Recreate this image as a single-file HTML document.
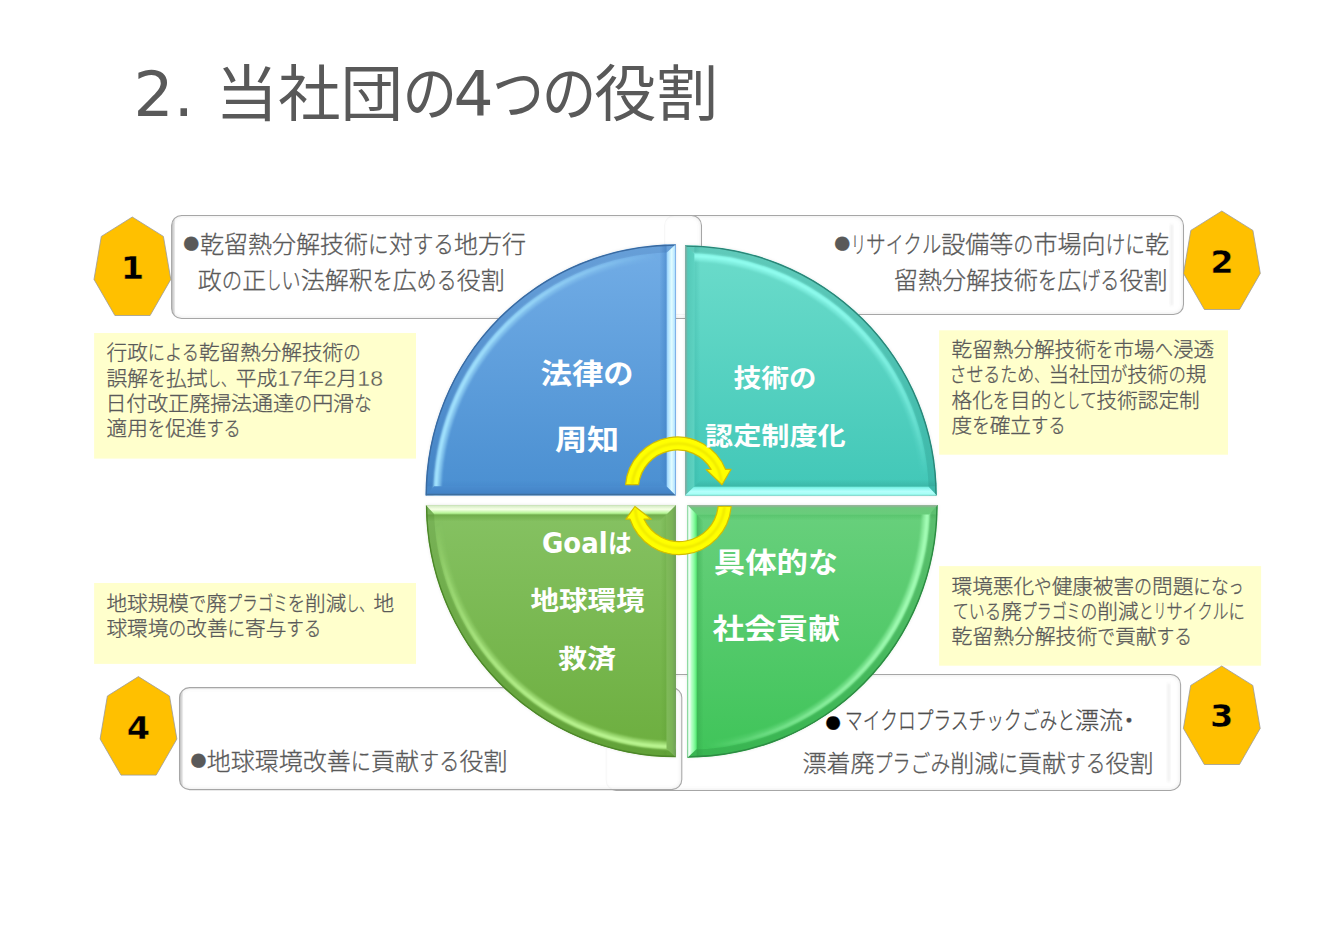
<!DOCTYPE html>
<html lang="ja"><head><meta charset="utf-8"><title>2. 当社団の4つの役割</title>
<style>
html,body{margin:0;padding:0;background:#fff}
body{width:1321px;height:933px;overflow:hidden;position:relative}
svg{position:absolute;left:0;top:0;display:block}
text{font-family:"Liberation Sans","Noto Sans CJK JP",sans-serif;white-space:pre}
.l{font-family:"DejaVu Sans","Liberation Sans",sans-serif}
</style></head><body>
<svg width="1321" height="933" viewBox="0 0 1321 933">
<defs>
<filter id="b1" x="-10%" y="-10%" width="120%" height="120%"><feGaussianBlur stdDeviation="0.8"/></filter>
<filter id="b2" x="-10%" y="-10%" width="120%" height="120%"><feGaussianBlur stdDeviation="1.6"/></filter>
<filter id="b3" x="-20%" y="-20%" width="140%" height="140%"><feGaussianBlur stdDeviation="2.5"/></filter>
</defs>
<rect width="1321" height="933" fill="#ffffff"/>
<clipPath id="bc2"><rect x="664.6" y="215.4" width="518.9" height="99.2" rx="10.0"/></clipPath>
<rect x="664.6" y="215.4" width="518.9" height="99.2" rx="10.0" fill="#fff" fill-opacity="0.9"/>
<g clip-path="url(#bc2)" fill="none"><rect x="664.6" y="215.4" width="518.9" height="99.2" rx="10.0" stroke="#8c8c8c" stroke-opacity="0.16" stroke-width="3" filter="url(#b2)"/>
<rect x="1170.0" y="224.4" width="3.4" height="81.2" fill="#7a7a7a" fill-opacity="0.09" filter="url(#b1)"/>
</g>
<rect x="664.6" y="215.4" width="518.9" height="99.2" rx="10.0" fill="none" stroke="#a6a6a6" stroke-width="1.05"/>
<clipPath id="bc1"><rect x="171.6" y="215.4" width="529.9" height="103.1" rx="10.0"/></clipPath>
<rect x="171.6" y="215.4" width="529.9" height="103.1" rx="10.0" fill="#fff" fill-opacity="0.9"/>
<g clip-path="url(#bc1)" fill="none"><rect x="171.6" y="215.4" width="529.9" height="103.1" rx="10.0" stroke="#8c8c8c" stroke-opacity="0.16" stroke-width="3" filter="url(#b2)"/>
<rect x="167.6" y="218.4" width="6.5" height="97.1" fill="#7a7a7a" fill-opacity="0.42" filter="url(#b2)"/>
</g>
<rect x="171.6" y="215.4" width="529.9" height="103.1" rx="10.0" fill="none" stroke="#a6a6a6" stroke-width="1.05"/>
<clipPath id="bc3"><rect x="606.2" y="674.4" width="574.4" height="116.0" rx="10.0"/></clipPath>
<rect x="606.2" y="674.4" width="574.4" height="116.0" rx="10.0" fill="#fff" fill-opacity="0.9"/>
<g clip-path="url(#bc3)" fill="none"><rect x="606.2" y="674.4" width="574.4" height="116.0" rx="10.0" stroke="#8c8c8c" stroke-opacity="0.16" stroke-width="3" filter="url(#b2)"/>
<rect x="1167.1" y="683.4" width="3.4" height="98.0" fill="#7a7a7a" fill-opacity="0.09" filter="url(#b1)"/>
</g>
<rect x="606.2" y="674.4" width="574.4" height="116.0" rx="10.0" fill="none" stroke="#a6a6a6" stroke-width="1.05"/>
<clipPath id="bc4"><rect x="179.5" y="687.6" width="502.3" height="102.0" rx="10.0"/></clipPath>
<rect x="179.5" y="687.6" width="502.3" height="102.0" rx="10.0" fill="#fff" fill-opacity="0.9"/>
<g clip-path="url(#bc4)" fill="none"><rect x="179.5" y="687.6" width="502.3" height="102.0" rx="10.0" stroke="#8c8c8c" stroke-opacity="0.16" stroke-width="3" filter="url(#b2)"/>
<rect x="175.5" y="690.6" width="6.5" height="96.0" fill="#7a7a7a" fill-opacity="0.42" filter="url(#b2)"/>
</g>
<rect x="179.5" y="687.6" width="502.3" height="102.0" rx="10.0" fill="none" stroke="#a6a6a6" stroke-width="1.05"/>
<rect x="94.1" y="333.0" width="321.9" height="125.6" fill="#ffffcc"/>
<rect x="939.1" y="330.3" width="288.9" height="124.4" fill="#ffffcc"/>
<rect x="939.1" y="566.1" width="322.0" height="99.6" fill="#ffffcc"/>
<rect x="94.1" y="583.0" width="321.9" height="80.9" fill="#ffffcc"/>
<polygon points="132.3,217.0 163.4,236.4 170.8,279.4 150.1,315.5 114.9,315.5 94.0,279.4 101.3,236.4" fill="#ffc000" stroke="#9b9b9b" stroke-width="0.8" stroke-linejoin="round"/>
<text class="l" x="120.70" y="279.0" textLength="23.4" lengthAdjust="spacingAndGlyphs" font-weight="700" font-size="32.0" fill="#000" stroke="#ffc000" stroke-width="0.4">1</text>
<polygon points="1221.8,211.0 1252.9,230.4 1260.3,273.4 1239.6,309.5 1204.4,309.5 1183.5,273.4 1190.8,230.4" fill="#ffc000" stroke="#9b9b9b" stroke-width="0.8" stroke-linejoin="round"/>
<text class="l" x="1210.20" y="273.0" textLength="23.4" lengthAdjust="spacingAndGlyphs" font-weight="700" font-size="32.0" fill="#000" stroke="#ffc000" stroke-width="0.4">2</text>
<polygon points="1221.7,666.0 1252.8,685.4 1260.2,728.4 1239.5,764.5 1204.3,764.5 1183.4,728.4 1190.7,685.4" fill="#ffc000" stroke="#9b9b9b" stroke-width="0.8" stroke-linejoin="round"/>
<text class="l" x="1210.10" y="727.1" textLength="23.4" lengthAdjust="spacingAndGlyphs" font-weight="700" font-size="32.0" fill="#000" stroke="#ffc000" stroke-width="0.4">3</text>
<polygon points="138.4,676.6 169.5,696.0 176.9,739.0 156.2,775.1 121.0,775.1 100.1,739.0 107.4,696.0" fill="#ffc000" stroke="#9b9b9b" stroke-width="0.8" stroke-linejoin="round"/>
<text class="l" x="126.80" y="738.6" textLength="23.4" lengthAdjust="spacingAndGlyphs" font-weight="700" font-size="32.0" fill="#000" stroke="#ffc000" stroke-width="0.4">4</text>
<linearGradient id="qf1" gradientUnits="userSpaceOnUse" x1="0" y1="244.2" x2="0" y2="495.6"><stop offset="0" stop-color="#72ade6"/><stop offset="1" stop-color="#4a8fd1"/></linearGradient>
<clipPath id="qc1"><path d="M675.90,495.60 L425.50,495.60 A250.4,251.4 0 0 1 675.90,244.20 Z"/></clipPath>
<path d="M675.90,495.60 L425.50,495.60 A250.4,251.4 0 0 1 675.90,244.20 Z" fill="#000" fill-opacity="0.10" filter="url(#b2)"/>
<path d="M675.90,495.60 L425.50,495.60 A250.4,251.4 0 0 1 675.90,244.20 Z" fill="url(#qf1)"/>
<g clip-path="url(#qc1)">
<linearGradient id="qs1" gradientUnits="userSpaceOnUse" x1="659.50" y1="495.60" x2="666.50" y2="495.60"><stop offset="0" stop-color="#3f7fc4" stop-opacity="0"/><stop offset="1" stop-color="#3f7fc4" stop-opacity="0.55"/></linearGradient>
<polygon points="659.50,479.20 666.50,486.20 666.50,244.20 659.50,244.20" fill="url(#qs1)"/>
<linearGradient id="qt1" gradientUnits="userSpaceOnUse" x1="675.90" y1="480.20" x2="675.90" y2="486.20"><stop offset="0" stop-color="#3f7fc4" stop-opacity="0"/><stop offset="1" stop-color="#3f7fc4" stop-opacity="0.3"/></linearGradient>
<polygon points="660.50,480.20 666.50,486.20 425.50,486.20 425.50,480.20" fill="url(#qt1)"/>
<path d="M429.50,495.60 A246.40,247.40 0 0 1 675.90,248.20" fill="none" stroke="#0a2a66" stroke-opacity="0.1" stroke-width="8.0"/>
<linearGradient id="qh1" gradientUnits="userSpaceOnUse" x1="425.50" y1="495.60" x2="675.90" y2="244.20"><stop offset="0" stop-color="#a6e6ff" stop-opacity="1"/><stop offset="0.3" stop-color="#a6e6ff" stop-opacity="0.9"/><stop offset="0.6" stop-color="#a6e6ff" stop-opacity="0.6"/><stop offset="0.8" stop-color="#a6e6ff" stop-opacity="0.3"/><stop offset="0.94" stop-color="#a6e6ff" stop-opacity="0"/></linearGradient>
<path d="M437.10,495.60 A238.80,239.80 0 0 1 675.90,255.80" fill="none" stroke="url(#qh1)" stroke-opacity="0.55" stroke-width="7.4" filter="url(#b1)"/>
<path d="M435.90,495.60 A240.00,241.00 0 0 1 675.90,254.60" fill="none" stroke="url(#qh1)" stroke-width="3.4" filter="url(#b1)"/>
<path d="M426.20,495.60 A249.70,250.70 0 0 1 675.90,244.90" fill="none" stroke="#3a6aa0" stroke-width="1.5"/>
<linearGradient id="qd1" gradientUnits="userSpaceOnUse" x1="675.90" y1="486.20" x2="675.90" y2="495.60"><stop offset="0" stop-color="#4a8ccf"/><stop offset="0.75" stop-color="#4483c6"/><stop offset="0.86" stop-color="#3e6f9f"/><stop offset="1" stop-color="#3b6794"/></linearGradient>
<polygon points="675.90,495.60 425.50,495.60 434.10,486.20 666.50,486.20" fill="url(#qd1)"/>
<linearGradient id="qb1" gradientUnits="userSpaceOnUse" x1="666.50" y1="495.60" x2="675.90" y2="495.60"><stop offset="0" stop-color="#7db4e6"/><stop offset="0.12" stop-color="#a4dcff"/><stop offset="0.55" stop-color="#e2fdff"/><stop offset="0.85" stop-color="#b8e6ff"/><stop offset="1" stop-color="#6f9fe0"/></linearGradient>
<polygon points="675.90,495.60 675.90,244.20 666.50,252.80 666.50,486.20" fill="url(#qb1)"/>
</g>
<linearGradient id="qf2" gradientUnits="userSpaceOnUse" x1="0" y1="245.2" x2="0" y2="495.6"><stop offset="0" stop-color="#6cdccb"/><stop offset="1" stop-color="#41c7b7"/></linearGradient>
<clipPath id="qc2"><path d="M685.00,495.60 L685.00,245.20 A251.8,250.4 0 0 1 936.80,495.60 Z"/></clipPath>
<path d="M685.00,495.60 L685.00,245.20 A251.8,250.4 0 0 1 936.80,495.60 Z" fill="#000" fill-opacity="0.10" filter="url(#b2)"/>
<path d="M685.00,495.60 L685.00,245.20 A251.8,250.4 0 0 1 936.80,495.60 Z" fill="url(#qf2)"/>
<g clip-path="url(#qc2)">
<linearGradient id="qs2" gradientUnits="userSpaceOnUse" x1="685.00" y1="479.20" x2="685.00" y2="486.20"><stop offset="0" stop-color="#35ab9c" stop-opacity="0"/><stop offset="1" stop-color="#35ab9c" stop-opacity="0.55"/></linearGradient>
<polygon points="701.40,479.20 694.40,486.20 936.80,486.20 936.80,479.20" fill="url(#qs2)"/>
<linearGradient id="qt2" gradientUnits="userSpaceOnUse" x1="700.40" y1="495.60" x2="694.40" y2="495.60"><stop offset="0" stop-color="#35ab9c" stop-opacity="0"/><stop offset="1" stop-color="#35ab9c" stop-opacity="0.3"/></linearGradient>
<polygon points="700.40,480.20 694.40,486.20 694.40,245.20 700.40,245.20" fill="url(#qt2)"/>
<path d="M685.00,249.20 A247.80,246.40 0 0 1 932.80,495.60" fill="none" stroke="#064a40" stroke-opacity="0.12" stroke-width="8.0"/>
<linearGradient id="qh2" gradientUnits="userSpaceOnUse" x1="685.00" y1="245.20" x2="936.80" y2="495.60"><stop offset="0" stop-color="#92fff1" stop-opacity="1"/><stop offset="0.3" stop-color="#92fff1" stop-opacity="0.9"/><stop offset="0.6" stop-color="#92fff1" stop-opacity="0.6"/><stop offset="0.8" stop-color="#92fff1" stop-opacity="0.3"/><stop offset="0.94" stop-color="#92fff1" stop-opacity="0"/></linearGradient>
<path d="M685.00,256.80 A240.20,238.80 0 0 1 925.20,495.60" fill="none" stroke="url(#qh2)" stroke-opacity="0.55" stroke-width="7.4" filter="url(#b1)"/>
<path d="M685.00,255.60 A241.40,240.00 0 0 1 926.40,495.60" fill="none" stroke="url(#qh2)" stroke-width="3.4" filter="url(#b1)"/>
<path d="M685.00,245.90 A251.10,249.70 0 0 1 936.10,495.60" fill="none" stroke="#2c8577" stroke-width="1.5"/>
<linearGradient id="qd2" gradientUnits="userSpaceOnUse" x1="694.40" y1="495.60" x2="685.00" y2="495.60"><stop offset="0" stop-color="#5dd2c1"/><stop offset="0.7" stop-color="#55c9b8"/><stop offset="0.85" stop-color="#6fb5a8"/><stop offset="1" stop-color="#8aa9a2"/></linearGradient>
<polygon points="685.00,495.60 685.00,245.20 694.40,253.80 694.40,486.20" fill="url(#qd2)"/>
<linearGradient id="qb2" gradientUnits="userSpaceOnUse" x1="685.00" y1="486.20" x2="685.00" y2="495.60"><stop offset="0" stop-color="#49bfae"/><stop offset="0.15" stop-color="#7ff5ea"/><stop offset="0.55" stop-color="#b4fffb"/><stop offset="0.85" stop-color="#a6fff6"/><stop offset="1" stop-color="#62d6c5"/></linearGradient>
<polygon points="685.00,495.60 936.80,495.60 928.20,486.20 694.40,486.20" fill="url(#qb2)"/>
</g>
<linearGradient id="qf3" gradientUnits="userSpaceOnUse" x1="0" y1="505.0" x2="0" y2="757.7"><stop offset="0" stop-color="#69d07d"/><stop offset="1" stop-color="#3fc459"/></linearGradient>
<clipPath id="qc3"><path d="M687.30,505.00 L937.70,505.00 A250.4,252.7 0 0 1 687.30,757.70 Z"/></clipPath>
<path d="M687.30,505.00 L937.70,505.00 A250.4,252.7 0 0 1 687.30,757.70 Z" fill="#000" fill-opacity="0.10" filter="url(#b2)"/>
<path d="M687.30,505.00 L937.70,505.00 A250.4,252.7 0 0 1 687.30,757.70 Z" fill="url(#qf3)"/>
<g clip-path="url(#qc3)">
<linearGradient id="qs3" gradientUnits="userSpaceOnUse" x1="703.70" y1="505.00" x2="696.70" y2="505.00"><stop offset="0" stop-color="#35a84c" stop-opacity="0"/><stop offset="1" stop-color="#35a84c" stop-opacity="0.55"/></linearGradient>
<polygon points="703.70,521.40 696.70,514.40 696.70,757.70 703.70,757.70" fill="url(#qs3)"/>
<linearGradient id="qt3" gradientUnits="userSpaceOnUse" x1="687.30" y1="520.40" x2="687.30" y2="514.40"><stop offset="0" stop-color="#35a84c" stop-opacity="0"/><stop offset="1" stop-color="#35a84c" stop-opacity="0.3"/></linearGradient>
<polygon points="702.70,520.40 696.70,514.40 937.70,514.40 937.70,520.40" fill="url(#qt3)"/>
<path d="M933.70,505.00 A246.40,248.70 0 0 1 687.30,753.70" fill="none" stroke="#064a18" stroke-opacity="0.12" stroke-width="8.0"/>
<linearGradient id="qh3" gradientUnits="userSpaceOnUse" x1="937.70" y1="505.00" x2="687.30" y2="757.70"><stop offset="0" stop-color="#a6ffb8" stop-opacity="1"/><stop offset="0.3" stop-color="#a6ffb8" stop-opacity="0.9"/><stop offset="0.6" stop-color="#a6ffb8" stop-opacity="0.6"/><stop offset="0.8" stop-color="#a6ffb8" stop-opacity="0.3"/><stop offset="0.94" stop-color="#a6ffb8" stop-opacity="0"/></linearGradient>
<path d="M926.10,505.00 A238.80,241.10 0 0 1 687.30,746.10" fill="none" stroke="url(#qh3)" stroke-opacity="0.55" stroke-width="7.4" filter="url(#b1)"/>
<path d="M927.30,505.00 A240.00,242.30 0 0 1 687.30,747.30" fill="none" stroke="url(#qh3)" stroke-width="3.4" filter="url(#b1)"/>
<path d="M937.00,505.00 A249.70,252.00 0 0 1 687.30,757.00" fill="none" stroke="#2d8a43" stroke-width="1.5"/>
<linearGradient id="qd3" gradientUnits="userSpaceOnUse" x1="687.30" y1="514.40" x2="687.30" y2="505.00"><stop offset="0" stop-color="#68cd7b"/><stop offset="0.7" stop-color="#6cc97c"/><stop offset="0.82" stop-color="#84b98c"/><stop offset="1" stop-color="#9cb59e"/></linearGradient>
<polygon points="687.30,505.00 937.70,505.00 929.10,514.40 696.70,514.40" fill="url(#qd3)"/>
<linearGradient id="qb3" gradientUnits="userSpaceOnUse" x1="696.70" y1="505.00" x2="687.30" y2="505.00"><stop offset="0" stop-color="#52e870"/><stop offset="0.3" stop-color="#8cfca4"/><stop offset="0.55" stop-color="#b8ffc8"/><stop offset="0.75" stop-color="#f0fff4"/><stop offset="0.92" stop-color="#c8f4d8"/><stop offset="1" stop-color="#8fd8a8"/></linearGradient>
<polygon points="687.30,505.00 687.30,757.70 696.70,749.10 696.70,514.40" fill="url(#qb3)"/>
</g>
<linearGradient id="qf4" gradientUnits="userSpaceOnUse" x1="0" y1="505.1" x2="0" y2="757.3"><stop offset="0" stop-color="#86c263"/><stop offset="1" stop-color="#6cae3e"/></linearGradient>
<clipPath id="qc4"><path d="M675.90,505.10 L675.90,757.30 A250.0,252.2 0 0 1 425.90,505.10 Z"/></clipPath>
<path d="M675.90,505.10 L675.90,757.30 A250.0,252.2 0 0 1 425.90,505.10 Z" fill="#000" fill-opacity="0.10" filter="url(#b2)"/>
<path d="M675.90,505.10 L675.90,757.30 A250.0,252.2 0 0 1 425.90,505.10 Z" fill="url(#qf4)"/>
<g clip-path="url(#qc4)">
<linearGradient id="qs4" gradientUnits="userSpaceOnUse" x1="675.90" y1="521.50" x2="675.90" y2="514.50"><stop offset="0" stop-color="#5c9a35" stop-opacity="0"/><stop offset="1" stop-color="#5c9a35" stop-opacity="0.55"/></linearGradient>
<polygon points="659.50,521.50 666.50,514.50 425.90,514.50 425.90,521.50" fill="url(#qs4)"/>
<linearGradient id="qt4" gradientUnits="userSpaceOnUse" x1="660.50" y1="505.10" x2="666.50" y2="505.10"><stop offset="0" stop-color="#5c9a35" stop-opacity="0"/><stop offset="1" stop-color="#5c9a35" stop-opacity="0.3"/></linearGradient>
<polygon points="660.50,520.50 666.50,514.50 666.50,757.30 660.50,757.30" fill="url(#qt4)"/>
<path d="M675.90,753.30 A246.00,248.20 0 0 1 429.90,505.10" fill="none" stroke="#1c4a06" stroke-opacity="0.12" stroke-width="8.0"/>
<linearGradient id="qh4" gradientUnits="userSpaceOnUse" x1="675.90" y1="757.30" x2="425.90" y2="505.10"><stop offset="0" stop-color="#bdf894" stop-opacity="1"/><stop offset="0.3" stop-color="#bdf894" stop-opacity="0.9"/><stop offset="0.6" stop-color="#bdf894" stop-opacity="0.6"/><stop offset="0.8" stop-color="#bdf894" stop-opacity="0.3"/><stop offset="0.94" stop-color="#bdf894" stop-opacity="0"/></linearGradient>
<path d="M675.90,745.70 A238.40,240.60 0 0 1 437.50,505.10" fill="none" stroke="url(#qh4)" stroke-opacity="0.55" stroke-width="7.4" filter="url(#b1)"/>
<path d="M675.90,746.90 A239.60,241.80 0 0 1 436.30,505.10" fill="none" stroke="url(#qh4)" stroke-width="3.4" filter="url(#b1)"/>
<path d="M675.90,756.60 A249.30,251.50 0 0 1 426.60,505.10" fill="none" stroke="#4c8629" stroke-width="1.5"/>
<linearGradient id="qd4" gradientUnits="userSpaceOnUse" x1="666.50" y1="505.10" x2="675.90" y2="505.10"><stop offset="0" stop-color="#80ba5a"/><stop offset="0.6" stop-color="#7ab356"/><stop offset="0.85" stop-color="#73a657"/><stop offset="1" stop-color="#6d9a59"/></linearGradient>
<polygon points="675.90,505.10 675.90,757.30 666.50,748.70 666.50,514.50" fill="url(#qd4)"/>
<linearGradient id="qb4" gradientUnits="userSpaceOnUse" x1="675.90" y1="514.50" x2="675.90" y2="505.10"><stop offset="0" stop-color="#8cc86a"/><stop offset="0.15" stop-color="#b6f596"/><stop offset="0.55" stop-color="#f6ffe6"/><stop offset="0.85" stop-color="#dcf0cc"/><stop offset="1" stop-color="#c6dfb4"/></linearGradient>
<polygon points="675.90,505.10 425.90,505.10 434.50,514.50 666.50,514.50" fill="url(#qb4)"/>
</g>
<path d="M625.59,484.60 A52.0,52.0 0 0 1 725.56,469.40 L731.10,469.30 L722.00,484.70 L706.10,469.50 L711.12,469.40 A39.0,39.0 0 0 0 638.65,484.60 Z" fill="#ffff00" stroke="#d2bd00" stroke-width="1.2" stroke-linejoin="round"/>
<path d="M632.11,484.60 A45.5,45.5 0 0 1 718.46,469.40 L722.00,482.70" fill="none" stroke="#e0d400" stroke-width="1.6" stroke-opacity="0.8" filter="url(#b1)"/>
<g transform="rotate(180 678.35 495.8)">
<path d="M625.55,485.10 A52.0,52.0 0 0 1 726.68,472.40 L730.80,472.40 L721.80,485.10 L705.40,472.40 L712.69,472.40 A39.0,39.0 0 0 0 638.60,485.10 Z" fill="#ffff00" stroke="#d2bd00" stroke-width="1.2" stroke-linejoin="round"/>
<path d="M632.07,485.10 A45.5,45.5 0 0 1 719.76,472.40 L721.80,483.10" fill="none" stroke="#e0d400" stroke-width="1.6" stroke-opacity="0.8" filter="url(#b1)"/>
</g>
<text y="116.20" font-size="60.85" font-weight="400" fill="#595959" ><tspan x="133.60" class="l" font-size="63.00">2. </tspan><tspan x="215.60" textLength="187.50" lengthAdjust="spacingAndGlyphs">当社団</tspan><tspan x="402.40" textLength="54.60" lengthAdjust="spacingAndGlyphs">の</tspan><tspan x="453.60" class="l" font-size="63.00">4</tspan><tspan x="492.20" textLength="51.60" lengthAdjust="spacingAndGlyphs">つ</tspan><tspan x="541.80" textLength="54.60" lengthAdjust="spacingAndGlyphs">の</tspan><tspan x="594.30" textLength="124.00" lengthAdjust="spacingAndGlyphs">役割</tspan></text>
<text y="252.50" font-size="23.64" font-weight="300" fill="#595959"  stroke="#595959" stroke-width="0.3"><tspan x="181.29" font-size="33.02" y="253.25">●</tspan><tspan x="200.00" y="252.50" textLength="168.01" lengthAdjust="spacingAndGlyphs">乾留熱分解技術</tspan><tspan x="368.01" y="252.50" textLength="20.66" lengthAdjust="spacingAndGlyphs">に</tspan><tspan x="388.67" y="252.50" textLength="24.00" lengthAdjust="spacingAndGlyphs">対</tspan><tspan x="412.67" y="252.50" textLength="41.33" lengthAdjust="spacingAndGlyphs">する</tspan><tspan x="454.00" y="252.50" textLength="72.00" lengthAdjust="spacingAndGlyphs">地方行</tspan></text>
<text y="288.70" font-size="23.64" font-weight="300" fill="#595959"  stroke="#595959" stroke-width="0.3"><tspan x="197.80" textLength="24.00" lengthAdjust="spacingAndGlyphs">政</tspan><tspan x="221.80" textLength="20.41" lengthAdjust="spacingAndGlyphs">の</tspan><tspan x="242.21" textLength="24.00" lengthAdjust="spacingAndGlyphs">正</tspan><tspan x="266.21" textLength="15.06" lengthAdjust="spacingAndGlyphs">し</tspan><tspan x="281.27" textLength="19.43" lengthAdjust="spacingAndGlyphs">い</tspan><tspan x="300.70" textLength="72.00" lengthAdjust="spacingAndGlyphs">法解釈</tspan><tspan x="372.70" textLength="20.16" lengthAdjust="spacingAndGlyphs">を</tspan><tspan x="392.86" textLength="24.00" lengthAdjust="spacingAndGlyphs">広</tspan><tspan x="416.86" textLength="39.84" lengthAdjust="spacingAndGlyphs">める</tspan><tspan x="456.70" textLength="48.00" lengthAdjust="spacingAndGlyphs">役割</tspan></text>
<text y="252.50" font-size="23.64" font-weight="300" fill="#595959"  stroke="#595959" stroke-width="0.3"><tspan x="832.29" font-size="33.02" y="253.25">●</tspan><tspan x="851.00" y="252.50" textLength="14.95" lengthAdjust="spacingAndGlyphs">リ</tspan><tspan x="865.95" y="252.50" textLength="19.77" lengthAdjust="spacingAndGlyphs">サ</tspan><tspan x="885.73" y="252.50" textLength="17.85" lengthAdjust="spacingAndGlyphs">イ</tspan><tspan x="903.57" y="252.50" textLength="18.33" lengthAdjust="spacingAndGlyphs">ク</tspan><tspan x="921.90" y="252.50" textLength="19.29" lengthAdjust="spacingAndGlyphs">ル</tspan><tspan x="941.19" y="252.50" textLength="72.00" lengthAdjust="spacingAndGlyphs">設備等</tspan><tspan x="1013.19" y="252.50" textLength="20.26" lengthAdjust="spacingAndGlyphs">の</tspan><tspan x="1033.45" y="252.50" textLength="72.00" lengthAdjust="spacingAndGlyphs">市場向</tspan><tspan x="1105.45" y="252.50" textLength="39.55" lengthAdjust="spacingAndGlyphs">けに</tspan><tspan x="1145.00" y="252.50" textLength="24.00" lengthAdjust="spacingAndGlyphs">乾</tspan></text>
<text y="288.60" font-size="23.64" font-weight="300" fill="#595959"  stroke="#595959" stroke-width="0.3"><tspan x="893.90" textLength="144.00" lengthAdjust="spacingAndGlyphs">留熱分解技術</tspan><tspan x="1037.90" textLength="19.36" lengthAdjust="spacingAndGlyphs">を</tspan><tspan x="1057.26" textLength="24.00" lengthAdjust="spacingAndGlyphs">広</tspan><tspan x="1081.26" textLength="38.24" lengthAdjust="spacingAndGlyphs">げる</tspan><tspan x="1119.50" textLength="48.00" lengthAdjust="spacingAndGlyphs">役割</tspan></text>
<text y="769.60" font-size="23.64" font-weight="300" fill="#595959"  stroke="#595959" stroke-width="0.3"><tspan x="188.39" font-size="33.02" y="769.95">●</tspan><tspan x="206.80" y="769.60" textLength="144.00" lengthAdjust="spacingAndGlyphs">地球環境改善</tspan><tspan x="350.80" y="769.60" textLength="20.20" lengthAdjust="spacingAndGlyphs">に</tspan><tspan x="371.00" y="769.60" textLength="48.00" lengthAdjust="spacingAndGlyphs">貢献</tspan><tspan x="419.00" y="769.60" textLength="40.40" lengthAdjust="spacingAndGlyphs">する</tspan><tspan x="459.40" y="769.60" textLength="48.00" lengthAdjust="spacingAndGlyphs">役割</tspan></text>
<text y="729.00" font-size="23.64" font-weight="300" fill="#4d4d4d"  stroke="#4d4d4d" stroke-width="0.3"><tspan x="823.59" fill="#000" font-size="31.86" y="731.82">●</tspan><tspan x="845.00" y="729.00" textLength="230.00" lengthAdjust="spacingAndGlyphs">マイクロプラスチックごみと</tspan><tspan x="1075.00" y="729.00" textLength="48.00" lengthAdjust="spacingAndGlyphs">漂流</tspan><tspan x="1117.00" y="729.00" textLength="24.00" lengthAdjust="spacingAndGlyphs">・</tspan></text>
<text y="771.70" font-size="23.64" font-weight="300" fill="#595959"  stroke="#595959" stroke-width="0.3"><tspan x="802.60" textLength="72.00" lengthAdjust="spacingAndGlyphs">漂着廃</tspan><tspan x="874.60" textLength="35.98" lengthAdjust="spacingAndGlyphs">プラ</tspan><tspan x="910.58" textLength="39.61" lengthAdjust="spacingAndGlyphs">ごみ</tspan><tspan x="950.19" textLength="48.00" lengthAdjust="spacingAndGlyphs">削減</tspan><tspan x="998.19" textLength="19.80" lengthAdjust="spacingAndGlyphs">に</tspan><tspan x="1017.99" textLength="48.00" lengthAdjust="spacingAndGlyphs">貢献</tspan><tspan x="1065.99" textLength="39.61" lengthAdjust="spacingAndGlyphs">する</tspan><tspan x="1105.60" textLength="48.00" lengthAdjust="spacingAndGlyphs">役割</tspan></text>
<text y="360.40" font-size="20.60" font-weight="300" fill="#595959"  stroke="#595959" stroke-width="0.3"><tspan x="106.60" textLength="41.20" lengthAdjust="spacingAndGlyphs">行政</tspan><tspan x="147.80" textLength="51.14" lengthAdjust="spacingAndGlyphs">による</tspan><tspan x="198.94" textLength="144.20" lengthAdjust="spacingAndGlyphs">乾留熱分解技術</tspan><tspan x="343.14" textLength="17.46" lengthAdjust="spacingAndGlyphs">の</tspan></text>
<text y="385.60" font-size="20.60" font-weight="300" fill="#595959"  stroke="#595959" stroke-width="0.3"><tspan x="106.60" textLength="41.51" lengthAdjust="spacingAndGlyphs">誤解</tspan><tspan x="148.11" textLength="17.95" lengthAdjust="spacingAndGlyphs">を</tspan><tspan x="166.07" textLength="41.51" lengthAdjust="spacingAndGlyphs">払拭</tspan><tspan x="207.58" textLength="13.41" lengthAdjust="spacingAndGlyphs">し</tspan><tspan x="220.99" textLength="14.71" lengthAdjust="spacingAndGlyphs">、</tspan><tspan x="235.70" textLength="41.51" lengthAdjust="spacingAndGlyphs">平成</tspan><tspan x="277.21" textLength="25.71" lengthAdjust="spacingAndGlyphs" font-size="22.66" font-weight="400" stroke="#ffffcc" stroke-width="0.35">17</tspan><tspan x="302.92" textLength="20.76" lengthAdjust="spacingAndGlyphs">年</tspan><tspan x="323.68" textLength="12.86" lengthAdjust="spacingAndGlyphs" font-size="22.66" font-weight="400" stroke="#ffffcc" stroke-width="0.35">2</tspan><tspan x="336.53" textLength="20.76" lengthAdjust="spacingAndGlyphs">月</tspan><tspan x="357.29" textLength="25.71" lengthAdjust="spacingAndGlyphs" font-size="22.66" font-weight="400" stroke="#ffffcc" stroke-width="0.35">18</tspan></text>
<text y="410.70" font-size="20.60" font-weight="300" fill="#595959"  stroke="#595959" stroke-width="0.3"><tspan x="105.40" textLength="188.59" lengthAdjust="spacingAndGlyphs">日付改正廃掃法通達</tspan><tspan x="293.99" textLength="18.17" lengthAdjust="spacingAndGlyphs">の</tspan><tspan x="312.16" textLength="41.91" lengthAdjust="spacingAndGlyphs">円滑</tspan><tspan x="354.06" textLength="17.74" lengthAdjust="spacingAndGlyphs">な</tspan></text>
<text y="435.80" font-size="20.60" font-weight="300" fill="#595959"  stroke="#595959" stroke-width="0.3"><tspan x="106.60" textLength="41.20" lengthAdjust="spacingAndGlyphs">適用</tspan><tspan x="147.80" textLength="17.41" lengthAdjust="spacingAndGlyphs">を</tspan><tspan x="165.21" textLength="41.20" lengthAdjust="spacingAndGlyphs">促進</tspan><tspan x="206.41" textLength="34.39" lengthAdjust="spacingAndGlyphs">する</tspan></text>
<text y="356.90" font-size="20.60" font-weight="300" fill="#595959"  stroke="#595959" stroke-width="0.3"><tspan x="951.60" textLength="144.20" lengthAdjust="spacingAndGlyphs">乾留熱分解技術</tspan><tspan x="1095.80" textLength="17.68" lengthAdjust="spacingAndGlyphs">を</tspan><tspan x="1113.48" textLength="41.20" lengthAdjust="spacingAndGlyphs">市場</tspan><tspan x="1154.68" textLength="18.32" lengthAdjust="spacingAndGlyphs">へ</tspan><tspan x="1173.00" textLength="41.20" lengthAdjust="spacingAndGlyphs">浸透</tspan></text>
<text y="382.30" font-size="20.60" font-weight="300" fill="#595959"  stroke="#595959" stroke-width="0.3"><tspan x="949.40" textLength="84.93" lengthAdjust="spacingAndGlyphs">させるため</tspan><tspan x="1034.33" textLength="14.09" lengthAdjust="spacingAndGlyphs">、</tspan><tspan x="1048.41" textLength="61.80" lengthAdjust="spacingAndGlyphs">当社団</tspan><tspan x="1110.21" textLength="16.99" lengthAdjust="spacingAndGlyphs">が</tspan><tspan x="1127.20" textLength="41.20" lengthAdjust="spacingAndGlyphs">技術</tspan><tspan x="1168.40" textLength="17.40" lengthAdjust="spacingAndGlyphs">の</tspan><tspan x="1185.80" textLength="20.60" lengthAdjust="spacingAndGlyphs">規</tspan></text>
<text y="407.60" font-size="20.60" font-weight="300" fill="#595959"  stroke="#595959" stroke-width="0.3"><tspan x="951.60" textLength="41.20" lengthAdjust="spacingAndGlyphs">格化</tspan><tspan x="992.80" textLength="17.26" lengthAdjust="spacingAndGlyphs">を</tspan><tspan x="1010.06" textLength="41.20" lengthAdjust="spacingAndGlyphs">目的</tspan><tspan x="1051.26" textLength="15.81" lengthAdjust="spacingAndGlyphs">と</tspan><tspan x="1067.07" textLength="12.89" lengthAdjust="spacingAndGlyphs">し</tspan><tspan x="1079.96" textLength="16.64" lengthAdjust="spacingAndGlyphs">て</tspan><tspan x="1096.60" textLength="103.00" lengthAdjust="spacingAndGlyphs">技術認定制</tspan></text>
<text y="432.90" font-size="20.60" font-weight="300" fill="#595959"  stroke="#595959" stroke-width="0.3"><tspan x="951.60" textLength="20.60" lengthAdjust="spacingAndGlyphs">度</tspan><tspan x="972.20" textLength="17.54" lengthAdjust="spacingAndGlyphs">を</tspan><tspan x="989.74" textLength="41.20" lengthAdjust="spacingAndGlyphs">確立</tspan><tspan x="1030.94" textLength="34.66" lengthAdjust="spacingAndGlyphs">する</tspan></text>
<text y="593.90" font-size="20.60" font-weight="300" fill="#595959"  stroke="#595959" stroke-width="0.3"><tspan x="951.60" textLength="82.40" lengthAdjust="spacingAndGlyphs">環境悪化</tspan><tspan x="1034.00" textLength="17.63" lengthAdjust="spacingAndGlyphs">や</tspan><tspan x="1051.63" textLength="82.40" lengthAdjust="spacingAndGlyphs">健康被害</tspan><tspan x="1134.03" textLength="18.06" lengthAdjust="spacingAndGlyphs">の</tspan><tspan x="1152.09" textLength="41.20" lengthAdjust="spacingAndGlyphs">問題</tspan><tspan x="1193.29" textLength="35.26" lengthAdjust="spacingAndGlyphs">にな</tspan><tspan x="1228.55" textLength="15.05" lengthAdjust="spacingAndGlyphs">っ</tspan></text>
<text y="618.80" font-size="20.60" font-weight="300" fill="#595959"  stroke="#595959" stroke-width="0.3"><tspan x="952.80" textLength="32.01" lengthAdjust="spacingAndGlyphs">てい</tspan><tspan x="984.81" textLength="16.41" lengthAdjust="spacingAndGlyphs">る</tspan><tspan x="1001.22" textLength="20.60" lengthAdjust="spacingAndGlyphs">廃</tspan><tspan x="1021.82" textLength="44.72" lengthAdjust="spacingAndGlyphs">プラゴ</tspan><tspan x="1066.54" textLength="14.01" lengthAdjust="spacingAndGlyphs">ミ</tspan><tspan x="1080.55" textLength="16.81" lengthAdjust="spacingAndGlyphs">の</tspan><tspan x="1097.35" textLength="41.20" lengthAdjust="spacingAndGlyphs">削減</tspan><tspan x="1138.55" textLength="15.21" lengthAdjust="spacingAndGlyphs">と</tspan><tspan x="1153.76" textLength="12.41" lengthAdjust="spacingAndGlyphs">リ</tspan><tspan x="1166.17" textLength="16.41" lengthAdjust="spacingAndGlyphs">サ</tspan><tspan x="1182.57" textLength="14.81" lengthAdjust="spacingAndGlyphs">イ</tspan><tspan x="1197.38" textLength="15.21" lengthAdjust="spacingAndGlyphs">ク</tspan><tspan x="1212.59" textLength="16.01" lengthAdjust="spacingAndGlyphs">ル</tspan><tspan x="1228.59" textLength="16.41" lengthAdjust="spacingAndGlyphs">に</tspan></text>
<text y="643.70" font-size="20.60" font-weight="300" fill="#595959"  stroke="#595959" stroke-width="0.3"><tspan x="951.60" textLength="145.59" lengthAdjust="spacingAndGlyphs">乾留熱分解技術</tspan><tspan x="1097.19" textLength="17.74" lengthAdjust="spacingAndGlyphs">で</tspan><tspan x="1114.93" textLength="41.60" lengthAdjust="spacingAndGlyphs">貢献</tspan><tspan x="1156.53" textLength="35.47" lengthAdjust="spacingAndGlyphs">する</tspan></text>
<text y="610.60" font-size="20.60" font-weight="300" fill="#595959"  stroke="#595959" stroke-width="0.3"><tspan x="106.50" textLength="82.40" lengthAdjust="spacingAndGlyphs">地球規模</tspan><tspan x="188.90" textLength="17.10" lengthAdjust="spacingAndGlyphs">で</tspan><tspan x="206.00" textLength="20.60" lengthAdjust="spacingAndGlyphs">廃</tspan><tspan x="226.60" textLength="46.60" lengthAdjust="spacingAndGlyphs">プラゴ</tspan><tspan x="273.20" textLength="14.59" lengthAdjust="spacingAndGlyphs">ミ</tspan><tspan x="287.79" textLength="17.31" lengthAdjust="spacingAndGlyphs">を</tspan><tspan x="305.10" textLength="41.20" lengthAdjust="spacingAndGlyphs">削減</tspan><tspan x="346.30" textLength="12.93" lengthAdjust="spacingAndGlyphs">し</tspan><tspan x="359.22" textLength="14.18" lengthAdjust="spacingAndGlyphs">、</tspan><tspan x="373.40" textLength="20.60" lengthAdjust="spacingAndGlyphs">地</tspan></text>
<text y="635.80" font-size="20.60" font-weight="300" fill="#595959"  stroke="#595959" stroke-width="0.3"><tspan x="106.50" textLength="61.80" lengthAdjust="spacingAndGlyphs">球環境</tspan><tspan x="168.30" textLength="18.00" lengthAdjust="spacingAndGlyphs">の</tspan><tspan x="186.30" textLength="41.20" lengthAdjust="spacingAndGlyphs">改善</tspan><tspan x="227.50" textLength="17.57" lengthAdjust="spacingAndGlyphs">に</tspan><tspan x="245.06" textLength="41.20" lengthAdjust="spacingAndGlyphs">寄与</tspan><tspan x="286.26" textLength="35.14" lengthAdjust="spacingAndGlyphs">する</tspan></text>
<text y="384.20" font-size="28.73" font-weight="700" fill="#ffffff" ><tspan x="540.50" textLength="62.80" lengthAdjust="spacingAndGlyphs">法律</tspan><tspan x="603.30" textLength="30.20" lengthAdjust="spacingAndGlyphs">の</tspan></text>
<text y="449.90" font-size="28.73" font-weight="700" fill="#ffffff" ><tspan x="554.90" textLength="64.20" lengthAdjust="spacingAndGlyphs">周知</tspan></text>
<text y="387.20" font-size="25.44" font-weight="700" fill="#ffffff" ><tspan x="733.50" textLength="55.60" lengthAdjust="spacingAndGlyphs">技術</tspan><tspan x="789.10" textLength="27.40" lengthAdjust="spacingAndGlyphs">の</tspan></text>
<text y="444.80" font-size="25.44" font-weight="700" fill="#ffffff" ><tspan x="705.10" textLength="140.60" lengthAdjust="spacingAndGlyphs">認定制度化</tspan></text>
<text y="552.90" font-size="25.71" font-weight="700" fill="#ffffff" ><tspan x="542.00" textLength="65.60" lengthAdjust="spacingAndGlyphs" class="l" font-size="28.00">Goal</tspan><tspan x="608.00" textLength="23.80" lengthAdjust="spacingAndGlyphs">は</tspan></text>
<text y="609.60" font-size="25.71" font-weight="700" fill="#ffffff" ><tspan x="530.40" textLength="114.00" lengthAdjust="spacingAndGlyphs">地球環境</tspan></text>
<text y="667.70" font-size="25.71" font-weight="700" fill="#ffffff" ><tspan x="558.00" textLength="58.00" lengthAdjust="spacingAndGlyphs">救済</tspan></text>
<text y="573.40" font-size="28.73" font-weight="700" fill="#ffffff" ><tspan x="713.80" textLength="94.20" lengthAdjust="spacingAndGlyphs">具体的</tspan><tspan x="808.00" textLength="29.80" lengthAdjust="spacingAndGlyphs">な</tspan></text>
<text y="638.60" font-size="28.73" font-weight="700" fill="#ffffff" ><tspan x="712.40" textLength="127.40" lengthAdjust="spacingAndGlyphs">社会貢献</tspan></text>
</svg>
</body></html>
